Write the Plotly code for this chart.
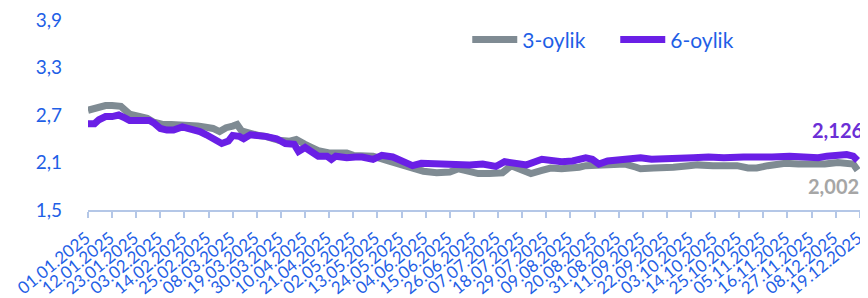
import datetime as dt
import plotly.graph_objects as go

# ---- data (day offsets from 01.01.2025) ----
start = dt.date(2025, 1, 1)

days_3m = [0, 3, 8, 11, 15, 19, 24, 27, 30, 34, 38, 42, 45, 50, 53, 57, 60, 63, 66, 68,
           70, 75, 78, 81, 84, 87, 92, 95, 99, 102, 105, 110, 115, 118, 121, 125, 130, 137,
           142, 146, 153, 159, 165, 169, 174, 178, 183, 189, 193, 198, 202, 207, 211, 216,
           219, 224, 227, 234, 240, 245, 250, 252, 258, 261, 267, 274, 278, 285, 290, 296,
           301, 305, 310, 318, 324, 330, 336, 342, 346, 349, 351]
vals_3m = [2.76, 2.79, 2.82, 2.82, 2.81, 2.71, 2.68, 2.66, 2.61, 2.58, 2.58, 2.58, 2.56, 2.56,
           2.55, 2.53, 2.49, 2.54, 2.56, 2.58, 2.50, 2.45, 2.44, 2.43, 2.40, 2.38, 2.37, 2.39,
           2.33, 2.28, 2.25, 2.22, 2.22, 2.22, 2.19, 2.18, 2.18, 2.12, 2.08, 2.03, 1.99, 1.97,
           1.98, 2.02, 1.99, 1.96, 1.96, 1.97, 2.06, 2.01, 1.96, 2.00, 2.03, 2.02, 2.02, 2.04,
           2.06, 2.06, 2.07, 2.08, 2.04, 2.02, 2.03, 2.03, 2.04, 2.06, 2.07, 2.06, 2.07, 2.06,
           2.03, 2.03, 2.06, 2.09, 2.08, 2.07, 2.08, 2.10, 2.09, 2.08, 2.002]

days_6m = [0, 3, 5, 8, 11, 14, 17, 19, 22, 25, 28, 30, 33, 36, 39, 43, 47, 51, 54, 57, 61,
           64, 66, 69, 71, 74, 78, 81, 86, 90, 94, 96, 99, 101, 105, 109, 111, 113, 118, 122,
           125, 130, 134, 139, 143, 148, 152, 159, 163, 168, 174, 180, 186, 190, 195, 200,
           207, 211, 216, 221, 227, 230, 233, 237, 242, 247, 252, 257, 261, 269, 276, 283,
           290, 299, 305, 312, 320, 327, 333, 337, 342, 346, 349, 351]
vals_6m = [2.59, 2.59, 2.64, 2.68, 2.68, 2.70, 2.66, 2.63, 2.63, 2.64, 2.63, 2.60, 2.53, 2.51,
           2.51, 2.55, 2.53, 2.49, 2.45, 2.40, 2.34, 2.37, 2.44, 2.43, 2.40, 2.45, 2.45, 2.43,
           2.40, 2.34, 2.33, 2.24, 2.29, 2.25, 2.18, 2.18, 2.14, 2.18, 2.16, 2.17, 2.17, 2.14,
           2.19, 2.17, 2.12, 2.06, 2.09, 2.08, 2.09, 2.08, 2.07, 2.08, 2.05, 2.11, 2.09, 2.07,
           2.14, 2.12, 2.11, 2.12, 2.16, 2.14, 2.08, 2.12, 2.13, 2.14, 2.16, 2.14, 2.14, 2.16,
           2.16, 2.17, 2.16, 2.17, 2.18, 2.17, 2.18, 2.17, 2.16, 2.18, 2.20, 2.20, 2.18, 2.126]

y_ticks = [1.5, 2.1, 2.7, 3.3, 3.9]
x_tick_step = 11
x_tick_count = 33

names = ["3-oylik", "6-oylik"]

# ---- styling ----
BLUE = "#1F5FE6"
GRAY = "#7F8B93"
PURPLE = "#6A1FE6"
FONT = "Lato"

to_dates = lambda ds: [start + dt.timedelta(days=d) for d in ds]
x3 = to_dates(days_3m)
x6 = to_dates(days_6m)
tickvals = [start + dt.timedelta(days=x_tick_step * i) for i in range(x_tick_count)]
ticktext = [d.strftime("%d.%m.%Y") for d in tickvals]

fig = go.Figure()
fig.add_trace(go.Scatter(x=x3, y=vals_3m, mode="lines", name=names[0],
                         line=dict(color=GRAY, width=7)))
fig.add_trace(go.Scatter(x=x6, y=vals_6m, mode="lines", name=names[1],
                         line=dict(color=PURPLE, width=7)))

fmt = lambda v: f"{v:.3f}".replace(".", ",")
fig.add_annotation(x=x6[-1], y=vals_6m[-1], text=f"<b>{fmt(vals_6m[-1])}</b>",
                   showarrow=False, xanchor="right", yanchor="middle",
                   xshift=7, yshift=30, font=dict(family=FONT, size=20, color="#6B2FD6"))
fig.add_annotation(x=x3[-1], y=vals_3m[-1], text=f"<b>{fmt(vals_3m[-1])}</b>",
                   showarrow=False, xanchor="right", yanchor="middle",
                   xshift=3, yshift=-16, font=dict(family=FONT, size=20, color="#A6A6A6"))

# page body has an 8px margin, so the figure is sized to the remaining window
fig.update_layout(
    width=860, height=290,
    margin=dict(l=80, r=6, t=12, b=88, autoexpand=False),
    paper_bgcolor="white", plot_bgcolor="white",
    separators=", ",
    font=dict(family=FONT, color=BLUE),
    showlegend=True,
    legend=dict(orientation="h", x=0.49, y=0.895, xanchor="left", yanchor="middle",
                font=dict(size=21, color=BLUE, family=FONT), bgcolor="rgba(0,0,0,0)",
                itemwidth=45, tracegroupgap=0, entrywidth=88, entrywidthmode="pixels"),
    xaxis=dict(type="date", range=[start, start + dt.timedelta(days=353)],
               tickvals=tickvals, ticktext=ticktext, tickangle=-39,
               tickfont=dict(size=17, color=BLUE, family=FONT),
               showgrid=False, zeroline=False, automargin=False,
               ticklabeloverflow="allow", ticklabelshift=-2, ticklabelstandoff=4,
               showline=True, linecolor="#B4C7E7", linewidth=1.5,
               ticks="outside", tickcolor="#B4C7E7", ticklen=6, tickwidth=1.5),
    yaxis=dict(range=[1.5, 3.9], tickvals=y_ticks, automargin=False,
               ticktext=[f"{v:.1f}".replace(".", ",") for v in y_ticks],
               tickfont=dict(size=19, color=BLUE, family=FONT),
               ticklabeloverflow="allow",
               showgrid=False, zeroline=False, showline=False, ticks="",
               ticklabelstandoff=25),
)

fig.write_html("out.html")
